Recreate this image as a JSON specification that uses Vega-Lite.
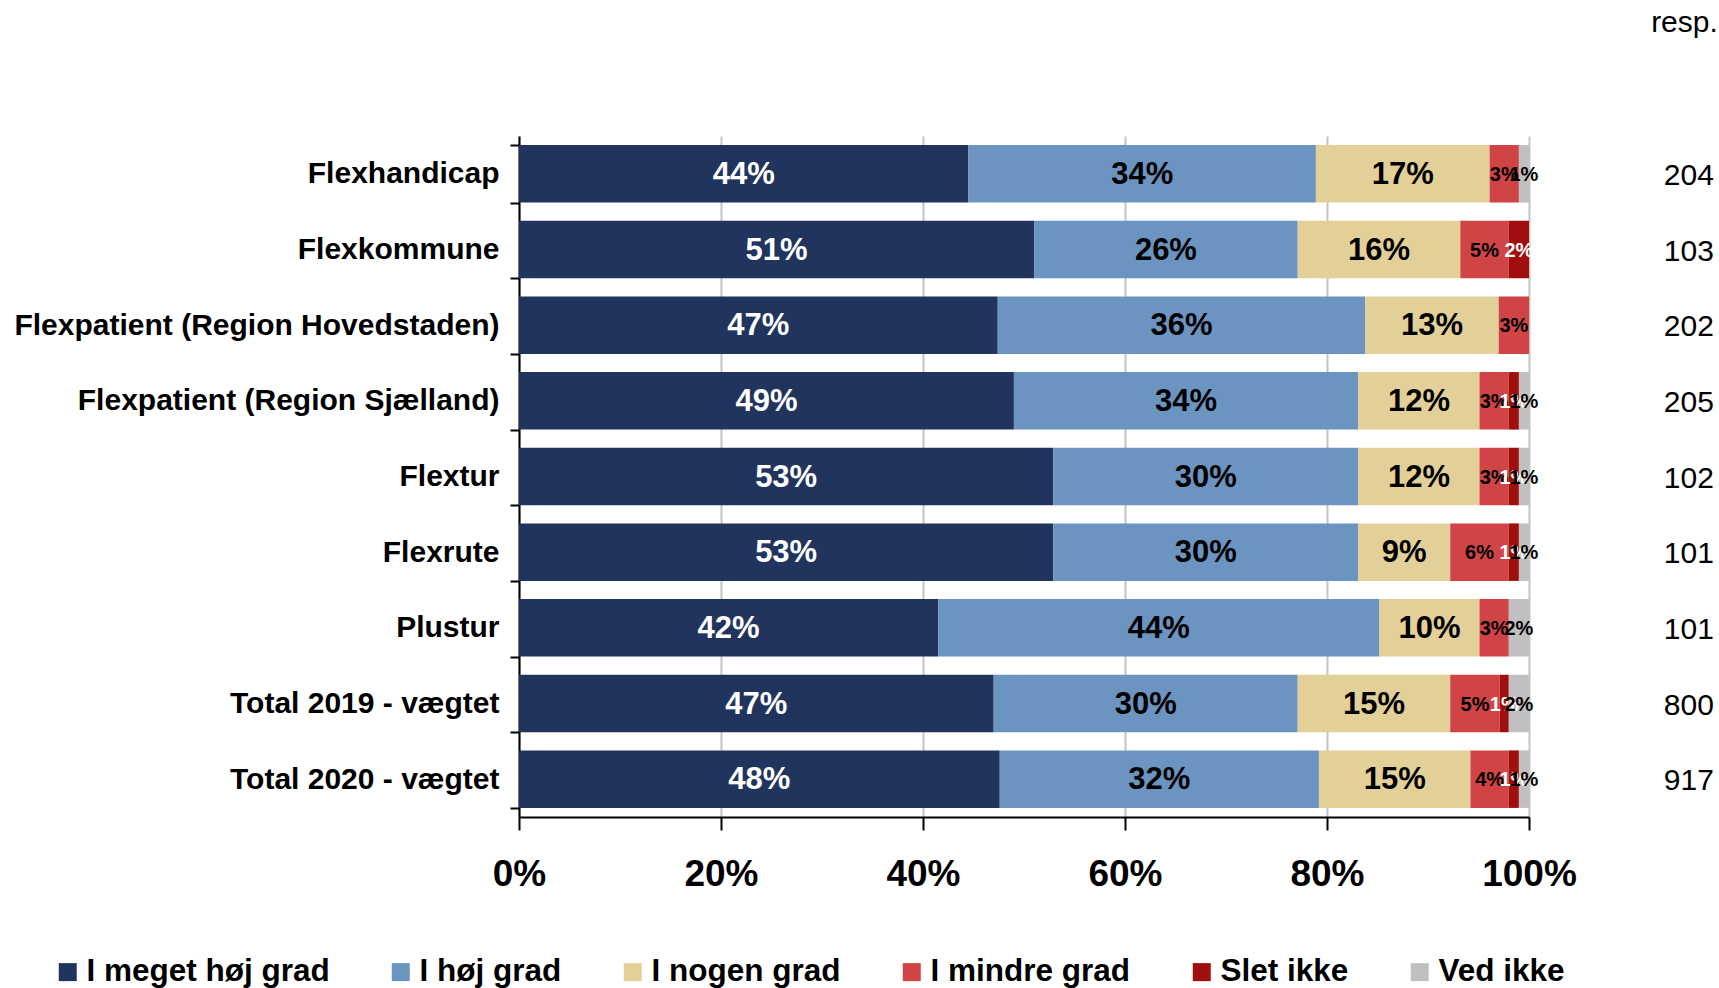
{
  "$schema": "https://vega.github.io/schema/vega-lite/v6.json",
  "width": 1010,
  "height": 681,
  "autosize": {"type": "none"},
  "padding": {"left": 519, "top": 136, "right": 190, "bottom": 171},
  "background": "#ffffff",
  "config": {
    "font": "Liberation Sans",
    "view": {"stroke": null},
    "axis": {"labelFont": "Liberation Sans", "labelColor": "#000000", "labelFontWeight": "bold", "title": null}
  },
  "title": {
    "text": "resp.",
    "anchor": "end",
    "frame": "bounds",
    "baseline": "top",
    "dx": 4,
    "offset": 83,
    "font": "Liberation Sans",
    "fontSize": 30,
    "fontWeight": "normal",
    "color": "#000000"
  },
  "datasets": {
    "shares": [
      {"cat": "Flexhandicap", "s": "I meget høj grad", "k": 1, "v": 44.5, "lbl": "44%"},
      {"cat": "Flexhandicap", "s": "I høj grad", "k": 2, "v": 34.4, "lbl": "34%"},
      {"cat": "Flexhandicap", "s": "I nogen grad", "k": 3, "v": 17.2, "lbl": "17%"},
      {"cat": "Flexhandicap", "s": "I mindre grad", "k": 4, "v": 2.9, "lbl": "3%"},
      {"cat": "Flexhandicap", "s": "Ved ikke", "k": 6, "v": 1.0, "lbl": "1%"},

      {"cat": "Flexkommune", "s": "I meget høj grad", "k": 1, "v": 51.0, "lbl": "51%"},
      {"cat": "Flexkommune", "s": "I høj grad", "k": 2, "v": 26.1, "lbl": "26%"},
      {"cat": "Flexkommune", "s": "I nogen grad", "k": 3, "v": 16.1, "lbl": "16%"},
      {"cat": "Flexkommune", "s": "I mindre grad", "k": 4, "v": 4.8, "lbl": "5%"},
      {"cat": "Flexkommune", "s": "Slet ikke", "k": 5, "v": 2.0, "lbl": "2%"},

      {"cat": "Flexpatient (Region Hovedstaden)", "s": "I meget høj grad", "k": 1, "v": 47.4, "lbl": "47%"},
      {"cat": "Flexpatient (Region Hovedstaden)", "s": "I høj grad", "k": 2, "v": 36.4, "lbl": "36%"},
      {"cat": "Flexpatient (Region Hovedstaden)", "s": "I nogen grad", "k": 3, "v": 13.2, "lbl": "13%"},
      {"cat": "Flexpatient (Region Hovedstaden)", "s": "I mindre grad", "k": 4, "v": 3.0, "lbl": "3%"},

      {"cat": "Flexpatient (Region Sjælland)", "s": "I meget høj grad", "k": 1, "v": 49.0, "lbl": "49%"},
      {"cat": "Flexpatient (Region Sjælland)", "s": "I høj grad", "k": 2, "v": 34.1, "lbl": "34%"},
      {"cat": "Flexpatient (Region Sjælland)", "s": "I nogen grad", "k": 3, "v": 12.0, "lbl": "12%"},
      {"cat": "Flexpatient (Region Sjælland)", "s": "I mindre grad", "k": 4, "v": 2.9, "lbl": "3%"},
      {"cat": "Flexpatient (Region Sjælland)", "s": "Slet ikke", "k": 5, "v": 1.0, "lbl": "1%"},
      {"cat": "Flexpatient (Region Sjælland)", "s": "Ved ikke", "k": 6, "v": 1.0, "lbl": "1%"},

      {"cat": "Flextur", "s": "I meget høj grad", "k": 1, "v": 52.9, "lbl": "53%"},
      {"cat": "Flextur", "s": "I høj grad", "k": 2, "v": 30.2, "lbl": "30%"},
      {"cat": "Flextur", "s": "I nogen grad", "k": 3, "v": 12.0, "lbl": "12%"},
      {"cat": "Flextur", "s": "I mindre grad", "k": 4, "v": 2.9, "lbl": "3%"},
      {"cat": "Flextur", "s": "Slet ikke", "k": 5, "v": 1.0, "lbl": "1%"},
      {"cat": "Flextur", "s": "Ved ikke", "k": 6, "v": 1.0, "lbl": "1%"},

      {"cat": "Flexrute", "s": "I meget høj grad", "k": 1, "v": 52.9, "lbl": "53%"},
      {"cat": "Flexrute", "s": "I høj grad", "k": 2, "v": 30.2, "lbl": "30%"},
      {"cat": "Flexrute", "s": "I nogen grad", "k": 3, "v": 9.1, "lbl": "9%"},
      {"cat": "Flexrute", "s": "I mindre grad", "k": 4, "v": 5.8, "lbl": "6%"},
      {"cat": "Flexrute", "s": "Slet ikke", "k": 5, "v": 1.0, "lbl": "1%"},
      {"cat": "Flexrute", "s": "Ved ikke", "k": 6, "v": 1.0, "lbl": "1%"},

      {"cat": "Plustur", "s": "I meget høj grad", "k": 1, "v": 41.5, "lbl": "42%"},
      {"cat": "Plustur", "s": "I høj grad", "k": 2, "v": 43.7, "lbl": "44%"},
      {"cat": "Plustur", "s": "I nogen grad", "k": 3, "v": 9.9, "lbl": "10%"},
      {"cat": "Plustur", "s": "I mindre grad", "k": 4, "v": 2.9, "lbl": "3%"},
      {"cat": "Plustur", "s": "Ved ikke", "k": 6, "v": 2.0, "lbl": "2%"},

      {"cat": "Total 2019 - vægtet", "s": "I meget høj grad", "k": 1, "v": 47.0, "lbl": "47%"},
      {"cat": "Total 2019 - vægtet", "s": "I høj grad", "k": 2, "v": 30.1, "lbl": "30%"},
      {"cat": "Total 2019 - vægtet", "s": "I nogen grad", "k": 3, "v": 15.1, "lbl": "15%"},
      {"cat": "Total 2019 - vægtet", "s": "I mindre grad", "k": 4, "v": 4.9, "lbl": "5%"},
      {"cat": "Total 2019 - vægtet", "s": "Slet ikke", "k": 5, "v": 0.9, "lbl": "1%"},
      {"cat": "Total 2019 - vægtet", "s": "Ved ikke", "k": 6, "v": 2.0, "lbl": "2%"},

      {"cat": "Total 2020 - vægtet", "s": "I meget høj grad", "k": 1, "v": 47.6, "lbl": "48%"},
      {"cat": "Total 2020 - vægtet", "s": "I høj grad", "k": 2, "v": 31.6, "lbl": "32%"},
      {"cat": "Total 2020 - vægtet", "s": "I nogen grad", "k": 3, "v": 15.0, "lbl": "15%"},
      {"cat": "Total 2020 - vægtet", "s": "I mindre grad", "k": 4, "v": 3.8, "lbl": "4%"},
      {"cat": "Total 2020 - vægtet", "s": "Slet ikke", "k": 5, "v": 1.0, "lbl": "1%"},
      {"cat": "Total 2020 - vægtet", "s": "Ved ikke", "k": 6, "v": 1.0, "lbl": "1%"}
    ],
    "resp": [
      {"cat": "Flexhandicap", "n": "204"},
      {"cat": "Flexkommune", "n": "103"},
      {"cat": "Flexpatient (Region Hovedstaden)", "n": "202"},
      {"cat": "Flexpatient (Region Sjælland)", "n": "205"},
      {"cat": "Flextur", "n": "102"},
      {"cat": "Flexrute", "n": "101"},
      {"cat": "Plustur", "n": "101"},
      {"cat": "Total 2019 - vægtet", "n": "800"},
      {"cat": "Total 2020 - vægtet", "n": "917"}
    ]
  },
  "layer": [
    {
      "data": {"name": "shares"},
      "transform": [
        {"stack": "v", "groupby": ["cat"], "sort": [{"field": "k", "order": "ascending"}], "as": ["v0", "v1"]}
      ],
      "mark": {"type": "bar"},
      "encoding": {
        "y": {
          "field": "cat", "type": "nominal",
          "scale": {
            "domain": ["Flexhandicap", "Flexkommune", "Flexpatient (Region Hovedstaden)", "Flexpatient (Region Sjælland)", "Flextur", "Flexrute", "Plustur", "Total 2019 - vægtet", "Total 2020 - vægtet"],
            "paddingInner": 0.24, "paddingOuter": 0.12
          },
          "axis": {
            "labelFontSize": 30, "labelLimit": 700, "labelPadding": 11,
            "tickBand": "extent", "tickSize": 9, "tickColor": "#000000", "tickWidth": 2,
            "domainColor": "#000000", "domainWidth": 2, "grid": false
          }
        },
        "x": {
          "field": "v0", "type": "quantitative",
          "scale": {"domain": [0, 100], "nice": false},
          "axis": {
            "values": [0, 20, 40, 60, 80, 100],
            "labelExpr": "datum.value + '%'",
            "labelFontSize": 37, "labelPadding": 26, "labelFlush": false,
            "tickSize": 13, "tickColor": "#000000", "tickWidth": 2,
            "domainColor": "#000000", "domainWidth": 2,
            "grid": true, "gridColor": "#c4c4c4", "gridWidth": 2
          }
        },
        "x2": {"field": "v1"},
        "color": {
          "field": "s", "type": "nominal",
          "scale": {
            "domain": ["I meget høj grad", "I høj grad", "I nogen grad", "I mindre grad", "Slet ikke", "Ved ikke"],
            "range": ["#20345e", "#6b94c0", "#e3d099", "#d04445", "#a00e0e", "#c0c0c0"]
          },
          "legend": {
            "title": null, "orient": "none", "direction": "horizontal",
            "legendX": -467, "legendY": 820, "padding": 0,
            "symbolType": "square", "symbolSize": 324, "symbolStrokeWidth": 0,
            "labelFont": "Liberation Sans", "labelFontSize": 31.5, "labelFontWeight": "bold", "labelColor": "#000000",
            "labelLimit": 400, "labelOffset": 3, "columnPadding": 55
          }
        }
      }
    },
    {
      "data": {"name": "shares"},
      "transform": [
        {"stack": "v", "groupby": ["cat"], "sort": [{"field": "k", "order": "ascending"}], "as": ["v0", "v1"]},
        {"calculate": "(datum.v0 + datum.v1) / 2", "as": "vm"}
      ],
      "mark": {"type": "text", "fontWeight": "bold", "font": "Liberation Sans", "baseline": "middle", "align": "center", "dy": 1},
      "encoding": {
        "y": {"field": "cat", "type": "nominal"},
        "x": {"field": "vm", "type": "quantitative"},
        "text": {"field": "lbl"},
        "size": {"condition": {"test": "datum.k <= 3", "value": 31}, "value": 20},
        "color": {
          "condition": {"test": "datum.s === 'I meget høj grad' || datum.s === 'Slet ikke'", "value": "#ffffff"},
          "value": "#000000"
        }
      }
    },
    {
      "data": {"name": "resp"},
      "mark": {"type": "text", "font": "Liberation Sans", "fontSize": 30, "align": "right", "baseline": "middle", "dy": 2},
      "encoding": {
        "y": {"field": "cat", "type": "nominal"},
        "x": {"datum": 118.3, "type": "quantitative"},
        "text": {"field": "n"},
        "color": {"value": "#000000"}
      }
    }
  ]
}
